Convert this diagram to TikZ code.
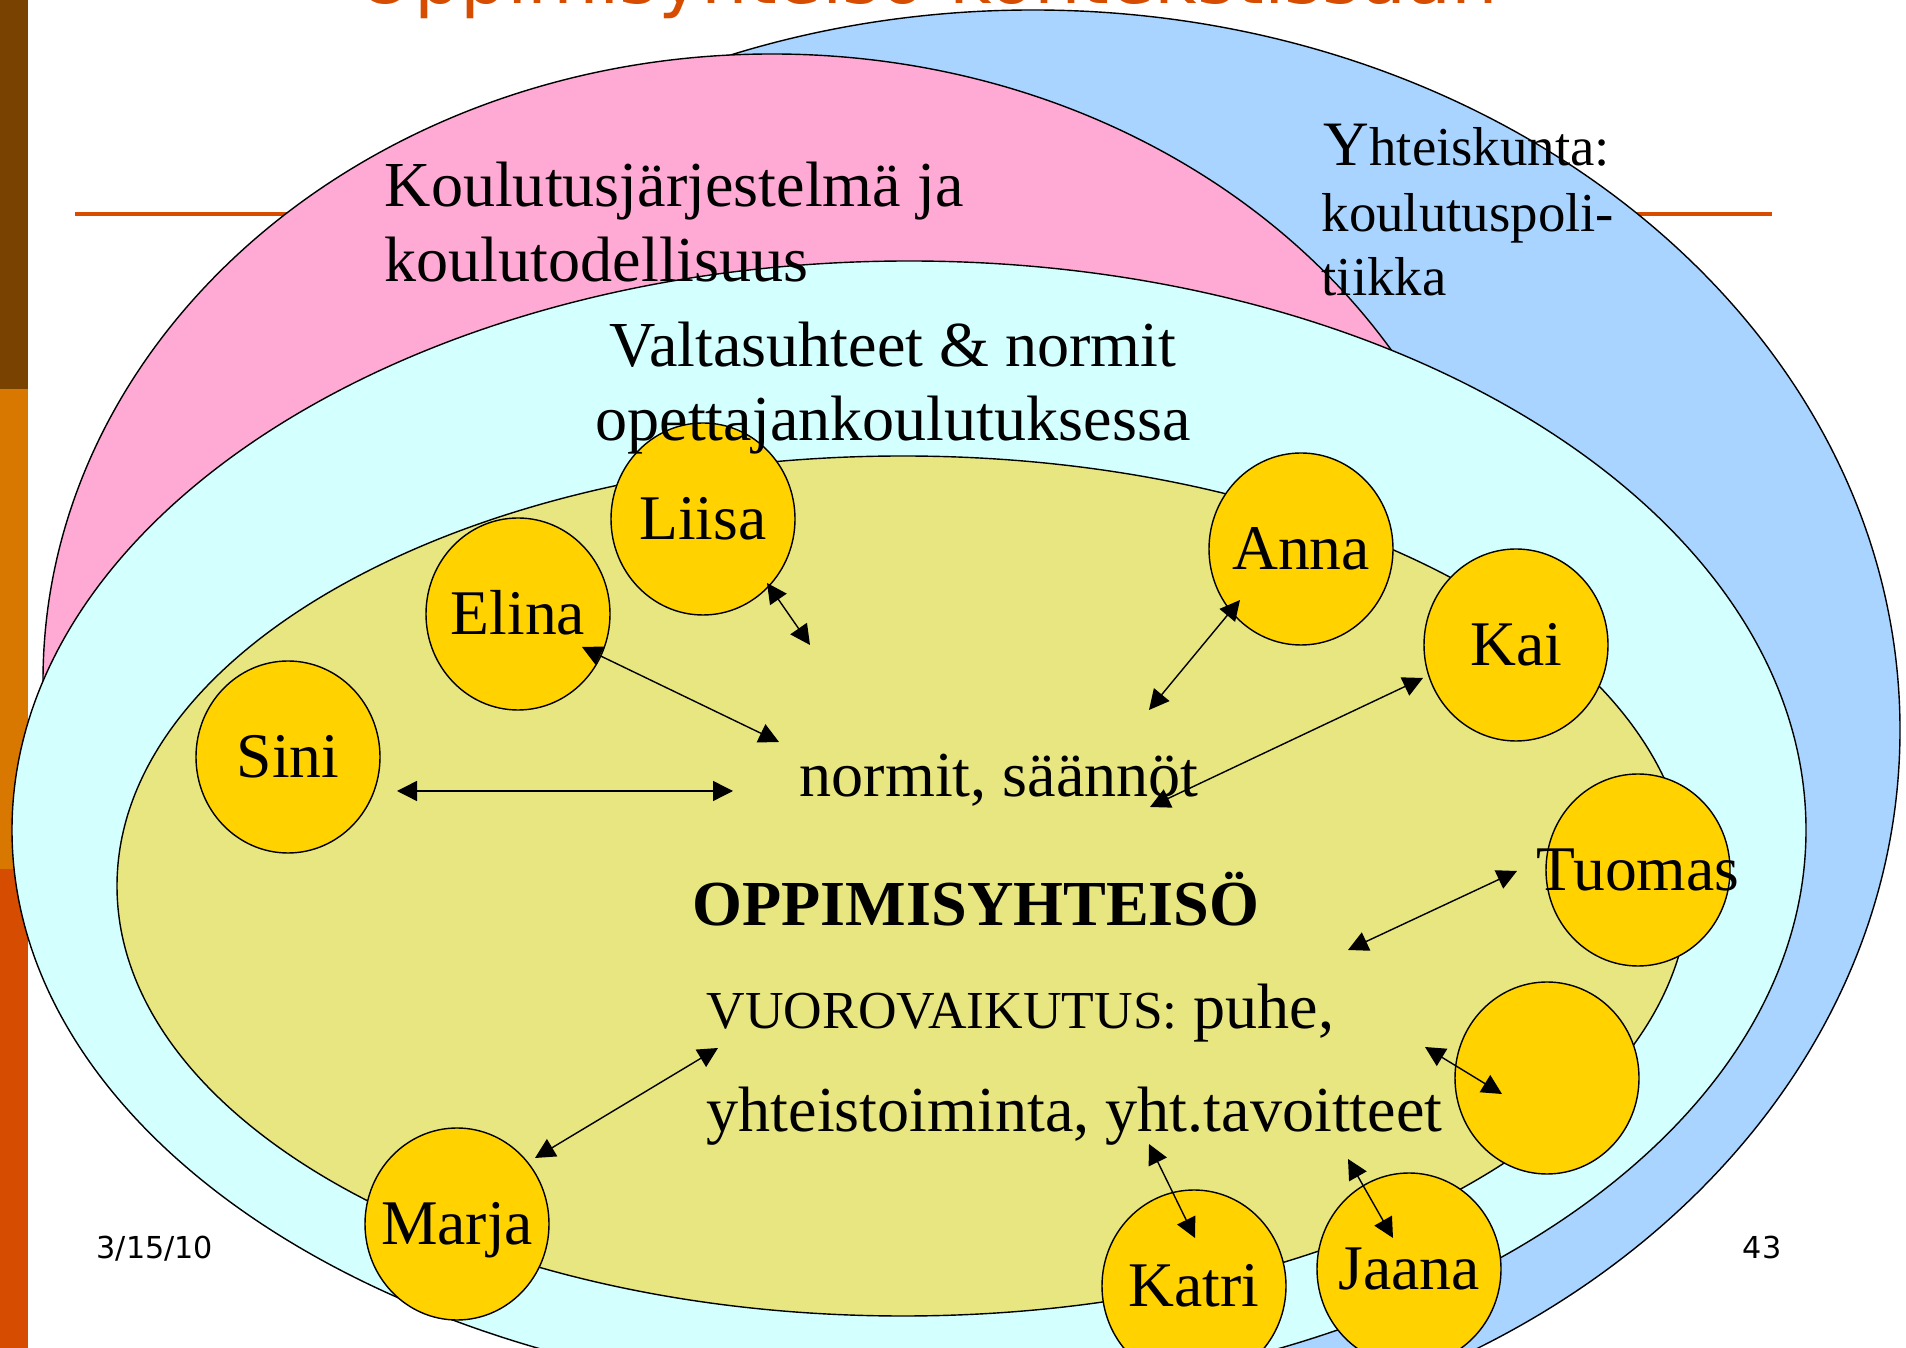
\documentclass[tikz,border=0pt]{standalone}
\usepackage{fontspec}
\setmainfont{Liberation Serif}
\newfontfamily\slidefont{DejaVu Sans}
\usepackage{xcolor}
\usepackage{tikz}
\usetikzlibrary{shapes.geometric, arrows.meta}

\definecolor{society}{RGB}{168,212,255}
\definecolor{school}{RGB}{255,170,212}
\definecolor{power}{RGB}{212,255,255}
\definecolor{community}{RGB}{232,230,128}
\definecolor{gold}{RGB}{255,210,0}
\definecolor{slideorange}{RGB}{214,76,0}
\definecolor{barbrown}{RGB}{122,66,0}
\definecolor{barorange}{RGB}{217,120,0}

\begin{document}
\begin{tikzpicture}[
    x=0.1mm, y=-0.1mm,
    txt/.style={font=\fontsize{18.25}{21}\selectfont, inner sep=0pt, anchor=base west},
    small/.style={font=\fontsize{15.6}{18}\selectfont, inner sep=0pt, anchor=base west},
    who/.style={font=\fontsize{18.1}{21}\selectfont, text height=11.9pt, text depth=0pt, inner sep=0pt},
    member/.style={ellipse, draw, fill=gold, minimum width=18.4mm, minimum height=19.2mm,
        inner sep=0pt, label={[who]center:#1}},
    link/.style={{Triangle[length=2mm,width=2mm]}-{Triangle[length=2mm,width=2mm]}}
]
    \useasboundingbox (0,0) rectangle (1906,1348);
    \clip (0,0) rectangle (1906,1348);

    % Slide frame
    \fill[barbrown] (0,0) rectangle (28,389);
    \fill[barorange] (0,389) rectangle (28,869);
    \fill[slideorange] (0,869) rectangle (28,1348);
    \node[font=\slidefont\fontsize{20.9}{24}\selectfont, text=slideorange, anchor=base, inner sep=0pt]
        (title) at (927,4) {Oppimisyhteisö kontekstissaan};
    \draw[slideorange, line width=0.9pt] (75,214) -- (1772,214);

    % Context ellipses
    \draw[fill=society] (1033,730) ellipse [x radius=867, y radius=720];
    \draw[fill=school] (772,681) ellipse [x radius=729, y radius=627];
    \draw[fill=power] (909,830) ellipse [x radius=897, y radius=569];
    \draw[fill=community] (903,886) ellipse [x radius=786, y radius=430];

    % Members
    \node[member=Liisa] (liisa) at (703,519) {};
    \node[member=Elina] (elina) at (518,614) {};
    \node[member=Sini] (sini) at (288,757) {};
    \node[member=Anna] (anna) at (1301,549) {};
    \node[member=Kai] (kai) at (1516,645) {};
    \node[member=Tuomas] (tuomas) at (1638,870) {};
    \node[member={}] (tyhja) at (1547,1078) {};
    \node[member=Jaana] (jaana) at (1409,1269) {};
    \node[member=Katri] (katri) at (1194,1286) {};
    \node[member=Marja] (marja) at (457,1224) {};

    % Interactions
    \coordinate (to-liisa) at (810,645);
    \coordinate (to-elina) at (779,742);
    \coordinate (to-sini) at (733,791);
    \coordinate (to-anna) at (1149,710);
    \coordinate (to-kai) at (1150,807);
    \coordinate (to-tuomas) at (1348,950);
    \coordinate (to-tyhja) at (1425,1047);
    \coordinate (to-jaana) at (1348,1159);
    \coordinate (to-katri) at (1149,1144);
    \coordinate (to-marja) at (718,1048);
    \draw[link] ([shift={(64,64)}]liisa.center) -- (to-liisa);
    \draw[link] ([shift={(64,33)}]elina.center) -- (to-elina);
    \draw[link] ([shift={(109,34)}]sini.center) -- (to-sini);
    \draw[link] ([shift={(-61,51)}]anna.center) -- (to-anna);
    \draw[link] ([shift={(-93,33)}]kai.center) -- (to-kai);
    \draw[link] ([shift={(-121,1)}]tuomas.center) -- (to-tuomas);
    \draw[link] ([shift={(-45,16)}]tyhja.center) -- (to-tyhja);
    \draw[link] ([shift={(-16,-31)}]jaana.center) -- (to-jaana);
    \draw[link] ([shift={(1,-48)}]katri.center) -- (to-katri);
    \draw[link] ([shift={(78,-66)}]marja.center) -- (to-marja);

    % Texts
    \node[txt] (koulu1) at (384,207) {Koulutusjärjestelmä ja};
    \node[txt] (koulu2) at (384,282) {koulutodellisuus};
    \node[small] (yht1) at (1323,166) {{\fontsize{18}{21}\selectfont Y}hteiskunta:};
    \node[small] (yht2) at (1321,232) {koulutuspoli-};
    \node[small] (yht3) at (1321,296) {tiikka};
    \node[txt, anchor=base] (valta1) at (893,367) {Valtasuhteet \& normit};
    \node[txt, anchor=base] (valta2) at (893,441) {opettajankoulutuksessa};
    \node[txt] (normit) at (799,797) {normit, säännöt};
    \node[txt, font=\fontsize{18.25}{21}\selectfont\bfseries] (oppi) at (692,926) {OPPIMISYHTEISÖ};
    \node[txt] (vuoro) at (706,1029) {{\fontsize{15.2}{18}\selectfont VUOROVAIKUTUS:} puhe,};
    \node[txt] (yhteis) at (706,1132) {yhteistoiminta, yht.tavoitteet};
    \node[font=\slidefont\fontsize{8.6}{10}\selectfont, inner sep=0pt, anchor=base west]
        (date) at (96,1259) {3/15/10};
    \node[font=\slidefont\fontsize{8.6}{10}\selectfont, inner sep=0pt, anchor=base east]
        (page) at (1782,1259) {43};
\end{tikzpicture}
\end{document}
